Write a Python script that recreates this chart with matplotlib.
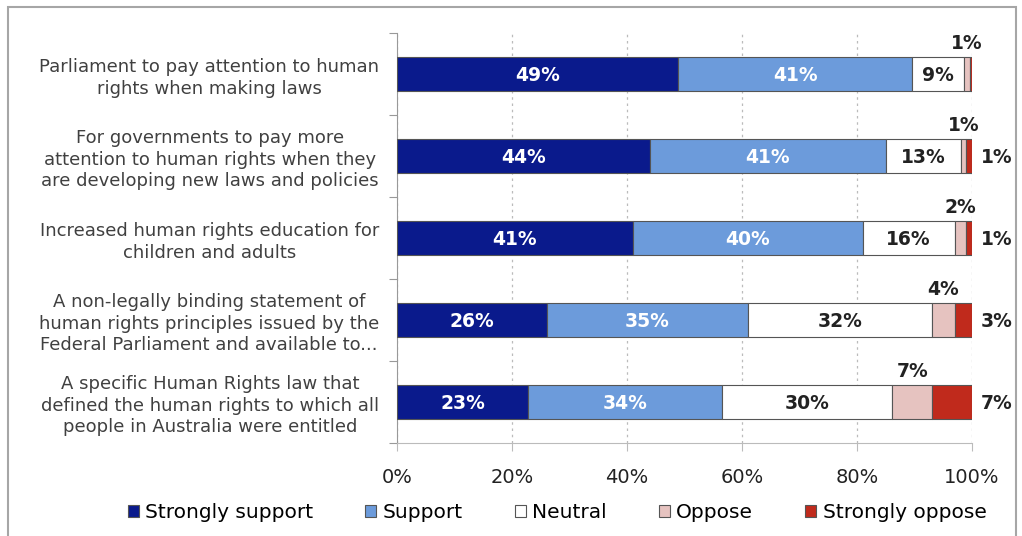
import matplotlib.pyplot as plt
from matplotlib.patches import Rectangle

# survey statements (top to bottom)
categories = [
    "Parliament to pay attention to human\nrights when making laws",
    "For governments to pay more\nattention to human rights when they\nare developing new laws and policies",
    "Increased human rights education for\nchildren and adults",
    "A non-legally binding statement of\nhuman rights principles issued by the\nFederal Parliament and available to...",
    "A specific Human Rights law that\ndefined the human rights to which all\npeople in Australia were entitled",
]
series_names = ["Strongly support", "Support", "Neutral", "Oppose", "Strongly oppose"]
strongly_support = [49, 44, 41, 26, 23]
support = [41, 41, 40, 35, 34]
neutral = [9, 13, 16, 32, 30]
oppose = [1, 1, 2, 4, 7]
strongly_oppose = [0.4, 1, 1, 3, 7]
xticks = [0, 20, 40, 60, 80, 100]

colors = ["#0a1a8c", "#6c9bdb", "#ffffff", "#e6c3c0", "#c02a1c"]
text_colors = ["white", "white", "#222222", "#222222", "#222222"]

data = [strongly_support, support, neutral, oppose, strongly_oppose]
n = len(categories)
ypos = list(range(n))

fig = plt.figure(figsize=(10.22, 5.36), dpi=100)
fig.patches.append(Rectangle((8 / 1022, -0.01), 1008 / 1022, 1 - 7 / 536 + 0.01,
                             transform=fig.transFigure, fill=False,
                             edgecolor="#a6a6a6", linewidth=1.5))
ax = fig.add_axes([397 / 1022, 1 - 443 / 536, 575 / 1022, 410 / 536])

totals = [sum(col) for col in zip(*data)]
left = [0.0] * n
for k, (name, vals) in enumerate(zip(series_names, data)):
    widths = [v / t * 100 for v, t in zip(vals, totals)]
    ax.barh(ypos, widths, left=left, height=0.42, color=colors[k],
            edgecolor="#555555", linewidth=0.8, label=name, zorder=3)
    for i in range(n):
        v = vals[i]
        if v < 0.5:
            continue
        lbl = f"{v:.0f}%"
        cx = left[i] + widths[i] / 2
        if k == 3:
            ax.text(cx, ypos[i] - 0.26, lbl, ha="center", va="bottom",
                    fontsize=13.5, fontweight="bold", color="#222222", zorder=4)
        elif k == 4:
            ax.text(104.3, ypos[i] + 0.02, lbl, ha="center", va="center",
                    fontsize=13.5, fontweight="bold", color="#222222", zorder=4,
                    clip_on=False)
        else:
            ax.text(cx, ypos[i] + 0.02, lbl, ha="center", va="center",
                    fontsize=13.5, fontweight="bold", color=text_colors[k], zorder=4)
    left = [l + w for l, w in zip(left, widths)]

ax.set_xlim(0, 100)
ax.set_ylim(n - 0.5, -0.5)
ax.set_xticks(xticks)
ax.set_xticklabels([f"{t}%" for t in xticks], fontsize=14, color="#222222")
ax.xaxis.grid(True, linestyle=(0, (2, 3)), color="#bbbbbb", linewidth=0.9, zorder=0)

ax.set_yticks([y - 0.5 for y in ypos] + [n - 0.5])
ax.set_yticklabels([])
ax.set_yticks(ypos, minor=True)
ax.set_yticklabels(categories, minor=True, fontsize=13, color="#404040",
                   multialignment="center", linespacing=1.25)
ax.tick_params(axis="y", which="minor", length=0, pad=13)
ax.tick_params(axis="y", which="major", length=6, color="#999999")
ax.tick_params(axis="x", length=6, color="#bbbbbb", pad=12)

for s in ["top", "right"]:
    ax.spines[s].set_visible(False)
ax.spines["left"].set_color("#999999")
ax.spines["bottom"].set_color("#bbbbbb")

fig.legend(loc="center", bbox_to_anchor=(557 / 1022, 1 - 513 / 536), ncol=5,
           frameon=False, fontsize=14.5, handlelength=0.55, handleheight=0.55,
           handletextpad=0.3, columnspacing=2.6)

fig.savefig("out.png", dpi=100)
